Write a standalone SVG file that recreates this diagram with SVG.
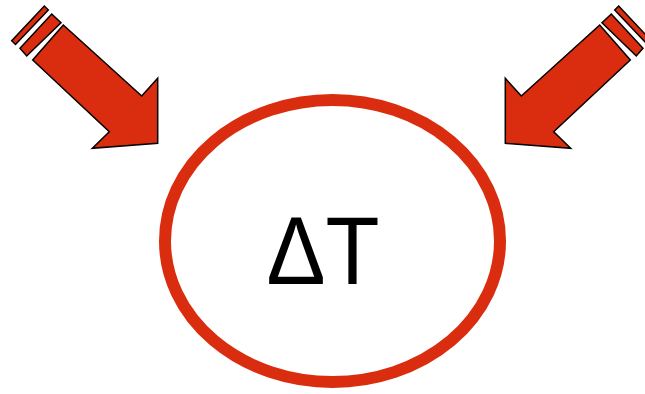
<svg xmlns="http://www.w3.org/2000/svg" width="645" height="394" viewBox="0 0 645 394">
<style>
.ar{fill:#DA2C0E;stroke:#000;stroke-width:1.5;stroke-linejoin:miter}
.lbl{font-family:"Liberation Sans",Arial,sans-serif;font-size:96px;fill:#000}
</style>
<defs>
<g id="arrowShape">
<polygon class="ar" points="63.3,25 141.7,96 157.7,78.3 157.7,143.3 92.3,148.3 109.3,131.7 32.7,60"/>
<polygon class="ar" points="51.7,14 61,22.7 26.7,56 20,48.3"/>
<polygon class="ar" points="44.3,6 48.3,10 15.5,44.5 11.7,40.7"/>
</g>
</defs>
<rect width="645" height="394" fill="#fff"/>
<g id="connectors">
<use id="arrow-left" href="#arrowShape"/>
<use id="arrow-right" href="#arrowShape" transform="translate(663,0) scale(-1,1)"/>
</g>
<g id="node-deltaT">
<ellipse cx="332.5" cy="241" rx="167.5" ry="141" fill="none" stroke="#DA2C0E" stroke-width="12"/>
<text class="lbl" x="323" y="284" text-anchor="middle" textLength="113" lengthAdjust="spacingAndGlyphs">ΔT</text>
</g>
</svg>
